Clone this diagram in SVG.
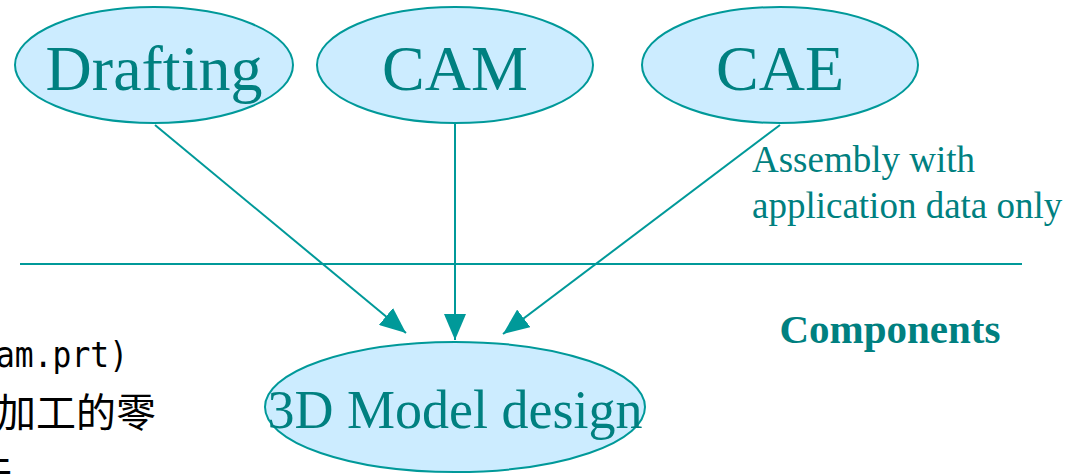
<svg xmlns="http://www.w3.org/2000/svg" width="1082" height="474" viewBox="0 0 1082 474">
<style>
.node ellipse{fill:#CCECFF;stroke:#009999;stroke-width:2}
.lbl{font-family:"Liberation Serif",serif;fill:#008080;text-anchor:middle}
.conn line{stroke:#009999;stroke-width:2}
.note{font-family:"Liberation Serif",serif;fill:#008080}
</style>
<defs>
<marker id="arr" viewBox="0 0 26 22" refX="26" refY="11" markerWidth="26" markerHeight="22" markerUnits="userSpaceOnUse" orient="auto">
<path d="M0,0 L26,11 L0,22 z" fill="#009999"/>
</marker>
</defs>
<rect width="1082" height="474" fill="#ffffff"/>
<line x1="20" y1="264" x2="1022" y2="264" stroke="#009999" stroke-width="2"/>
<g id="node-drafting" class="node">
<ellipse cx="154" cy="65" rx="139" ry="58"/>
<text class="lbl" x="154" y="90" font-size="64">Drafting</text>
</g>
<g id="node-cam" class="node">
<ellipse cx="455" cy="65" rx="138" ry="58"/>
<text class="lbl" x="455" y="90" font-size="64">CAM</text>
</g>
<g id="node-cae" class="node">
<ellipse cx="780" cy="65" rx="138" ry="58"/>
<text class="lbl" x="780" y="90" font-size="64">CAE</text>
</g>
<g id="node-3d" class="node">
<ellipse cx="455" cy="407" rx="190" ry="65"/>
<text class="lbl" x="455" y="428" font-size="54">3D Model design</text>
</g>
<g id="connectors" class="conn">
<line x1="155" y1="125" x2="406" y2="333" style="marker-end:url(#arr)"/>
<line x1="455" y1="123" x2="455" y2="340" style="marker-end:url(#arr)"/>
<line x1="780" y1="125" x2="503" y2="334" style="marker-end:url(#arr)"/>
</g>
<g id="notes">
<text class="note" x="752" y="172" font-size="37">Assembly with</text>
<text class="note" x="752" y="218" font-size="37">application data only</text>
<text class="note" x="890" y="343" font-size="41" font-weight="bold" text-anchor="middle">Components</text>
<text x="-4" y="367" font-size="35" textLength="132" lengthAdjust="spacingAndGlyphs" font-family="'DejaVu Sans Mono','Liberation Mono',monospace" fill="#000000">am.prt)</text>
<text x="156" y="427" font-size="40" text-anchor="end" font-family="'Liberation Serif','Noto Sans CJK TC',serif" fill="#000000">加工的零</text>
<text x="12" y="484" font-size="40" text-anchor="end" font-family="'Liberation Serif','Noto Sans CJK TC',serif" fill="#000000">件</text>
</g>
</svg>
